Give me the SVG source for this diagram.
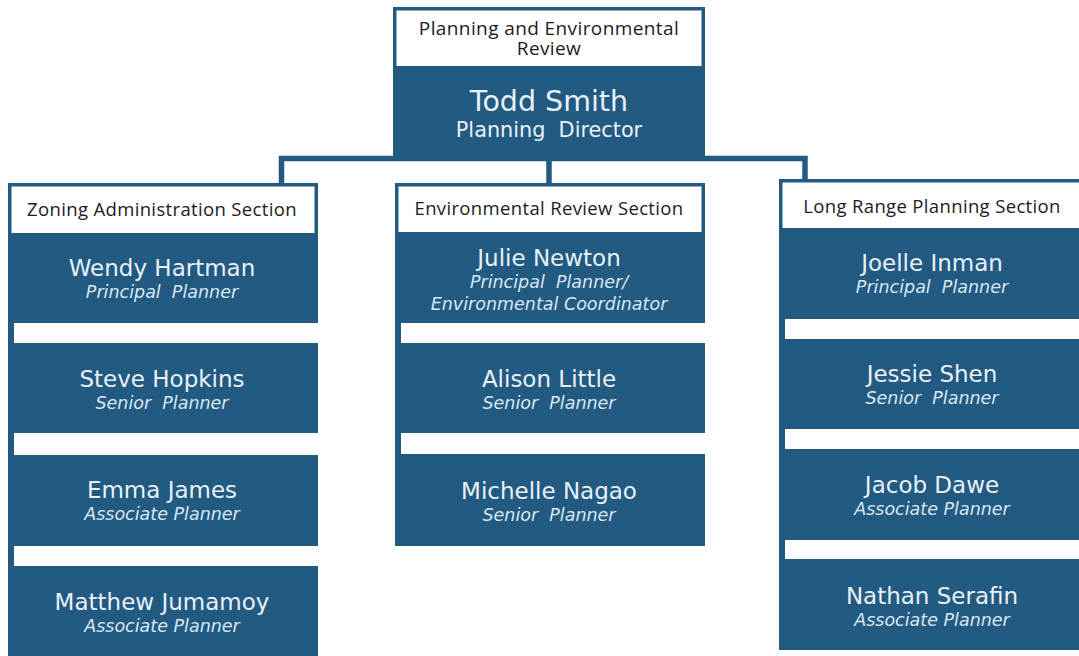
<svg xmlns="http://www.w3.org/2000/svg" width="1079" height="656" viewBox="0 0 1079 656">
  <style>
    .blue { fill: #225a81; }
    .hdr { fill: #ffffff; stroke: #225a81; stroke-width: 3.5; }
    .link { fill: none; stroke: #225a81; stroke-width: 5.5; }
    .sec { font-family: "Open Sans", "Noto Sans", sans-serif; font-size: 18.5px; letter-spacing: 0.35px; fill: #1c1c1c; text-anchor: middle; }
    .name { font-family: "DejaVu Sans", Verdana, sans-serif; font-size: 23px; fill: #e9f1f7; text-anchor: middle; }
    .role { font-family: "DejaVu Sans", Verdana, sans-serif; font-size: 17.5px; font-style: italic; fill: #dae7f1; text-anchor: middle; white-space: pre; }
  </style>

  <!-- connectors -->
  <g id="connectors">
    <path class="link" d="M281.5,184 V158.5 H805 V180"/>
    <path class="link" d="M549,158 V184"/>
  </g>

  <!-- director -->
  <g id="director">
    <rect class="hdr" x="394.75" y="8.75" width="308.5" height="60"/>
    <rect class="blue" x="393" y="66" width="312" height="92"/>
    <text class="sec" style="font-size:19px;letter-spacing:0.4px"><tspan x="549" y="35">Planning and Environmental</tspan><tspan x="549" y="55">Review</tspan></text>
    <text class="name" x="549" y="111" style="font-size:28.5px">Todd Smith</text>
    <text class="name" x="549" y="137" style="font-size:20.8px;white-space:pre">Planning  Director</text>
  </g>

  <!-- zoning administration column -->
  <g id="zoning">
    <rect class="blue" x="8" y="183" width="6" height="473"/>
    <rect class="hdr" x="9.75" y="184.75" width="306.5" height="50"/>
    <text class="sec" x="162" y="216">Zoning Administration Section</text>
    <g id="wendy-hartman">
      <rect class="blue" x="8" y="233" width="310" height="90"/>
      <text class="name" x="162" y="276">Wendy Hartman</text>
      <text class="role" x="162" y="298">Principal  Planner</text>
    </g>
    <g id="steve-hopkins">
      <rect class="blue" x="8" y="343" width="310" height="90"/>
      <text class="name" x="162" y="387">Steve Hopkins</text>
      <text class="role" x="162" y="409">Senior  Planner</text>
    </g>
    <g id="emma-james">
      <rect class="blue" x="8" y="455" width="310" height="91"/>
      <text class="name" x="162" y="498">Emma James</text>
      <text class="role" x="162" y="520">Associate Planner</text>
    </g>
    <g id="matthew-jumamoy">
      <rect class="blue" x="8" y="566" width="310" height="90"/>
      <text class="name" x="162" y="610">Matthew Jumamoy</text>
      <text class="role" x="162" y="632">Associate Planner</text>
    </g>
  </g>

  <!-- environmental review column -->
  <g id="environmental">
    <rect class="blue" x="395" y="183" width="6" height="363"/>
    <rect class="hdr" x="396.75" y="184.75" width="306.5" height="50"/>
    <text class="sec" x="549" y="215">Environmental Review Section</text>
    <g id="julie-newton">
      <rect class="blue" x="395" y="232" width="310" height="91"/>
      <text class="name" x="549" y="266">Julie Newton</text>
      <text class="role" x="549" y="288">Principal  Planner/</text>
      <text class="role" x="549" y="310">Environmental Coordinator</text>
    </g>
    <g id="alison-little">
      <rect class="blue" x="395" y="343" width="310" height="90"/>
      <text class="name" x="549" y="387">Alison Little</text>
      <text class="role" x="549" y="409">Senior  Planner</text>
    </g>
    <g id="michelle-nagao">
      <rect class="blue" x="395" y="454" width="310" height="92"/>
      <text class="name" x="549" y="499">Michelle Nagao</text>
      <text class="role" x="549" y="521">Senior  Planner</text>
    </g>
  </g>

  <!-- long range planning column -->
  <g id="long-range">
    <rect class="blue" x="779" y="179" width="6" height="471"/>
    <rect class="hdr" x="780.75" y="180.75" width="306.5" height="49"/>
    <text class="sec" x="932" y="213">Long Range Planning Section</text>
    <g id="joelle-inman">
      <rect class="blue" x="779" y="228" width="310" height="91"/>
      <text class="name" x="932" y="271">Joelle Inman</text>
      <text class="role" x="932" y="293">Principal  Planner</text>
    </g>
    <g id="jessie-shen">
      <rect class="blue" x="779" y="339" width="310" height="90"/>
      <text class="name" x="932" y="382">Jessie Shen</text>
      <text class="role" x="932" y="404">Senior  Planner</text>
    </g>
    <g id="jacob-dawe">
      <rect class="blue" x="779" y="449" width="310" height="91"/>
      <text class="name" x="932" y="493">Jacob Dawe</text>
      <text class="role" x="932" y="515">Associate Planner</text>
    </g>
    <g id="nathan-serafin">
      <rect class="blue" x="779" y="559" width="310" height="91"/>
      <text class="name" x="932" y="604">Nathan Serafin</text>
      <text class="role" x="932" y="626">Associate Planner</text>
    </g>
  </g>
</svg>
